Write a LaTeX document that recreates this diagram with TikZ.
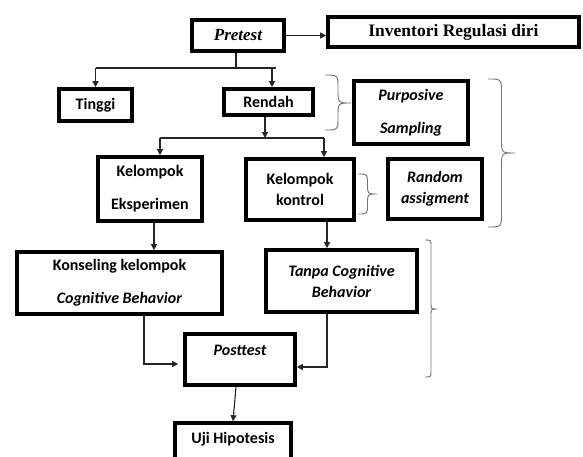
\documentclass[tikz,border=0pt]{standalone}
\usepackage{fontspec}
\setmainfont{Carlito}
\newfontfamily\tnrfont{Liberation Serif}
\usetikzlibrary{arrows.meta,calc}
\begin{document}
\begin{tikzpicture}[x=1pt,y=-1pt,
  box/.style={draw=black,line width=3.6pt,rectangle,inner sep=0pt,align=center,
    font=\fontsize{16}{21}\selectfont\bfseries},
  itbox/.style={box,font=\fontsize{16}{21}\selectfont\bfseries\itshape},
  conn/.style={draw=black!85,line width=1.1pt},
  arr/.style={conn,-{Triangle[length=6pt,width=6pt]}},
  bracec/.style={draw=black!55,line width=0.9pt}]
\useasboundingbox (0,0) rectangle (583,456);
\clip (0,0) rectangle (583,456);
\fill[white] (0,0) rectangle (583,456);

% boxes
\node[box,minimum width=92pt,minimum height=31pt,line width=3.8pt,
  font=\tnrfont\fontsize{17}{20}\selectfont\bfseries\itshape] (pre) at (238,35.5) {Pretest};
\node[box,minimum width=251pt,minimum height=30pt,
  font=\tnrfont\fontsize{17.5}{20}\selectfont\bfseries] (inv) at (453.5,32) {Inventori Regulasi diri};
\node[box,minimum width=73pt,minimum height=32pt] (tinggi) at (95.5,105) {Tinggi};
\node[box,minimum width=89pt,minimum height=26pt] (rendah) at (268.5,102) {Rendah};
\node[itbox,minimum width=114pt,minimum height=63pt] (purp) at (411,112.5) {Purposive\\[12pt]Sampling};
\node[box,minimum width=104pt,minimum height=64pt] (eks) at (150,189) {Kelompok\\[12pt]Eksperimen};
\node[box,minimum width=108pt,minimum height=61pt] (kon) at (300,189.5) {Kelompok\\kontrol};
\node[itbox,minimum width=94pt,minimum height=60pt] (rand) at (435,189) {Random\\assigment};
\node[box,minimum width=205pt,minimum height=62pt] (kons) at (119.5,283) {Konseling kelompok\\[12pt]\textit{Cognitive Behavior}};
\node[itbox,minimum width=151pt,minimum height=62pt] (tanpa) at (341.5,281) {Tanpa Cognitive\\Behavior};
\node[itbox,minimum width=110pt,minimum height=51pt] (post) at (240,359.5) {Posttest\\[-2pt]\mbox{}};
\node[box,minimum width=116pt,minimum height=45pt] (uji) at (233,445.5) {Uji Hipotesis\\[-6pt]\mbox{}};

% connectors
\draw[arr] (pre.east) -- (pre.east -| inv.west);

\coordinate (j1) at (236,68);
\coordinate (j1l) at (tinggi.north |- j1);
\coordinate (j1r) at ([xshift=7.5pt]rendah.north |- j1);
\draw[conn] (pre.south -| j1) -- (j1);
\draw[conn] (j1l) -- (j1r);
\draw[arr] (j1l) -- (tinggi.north);
\draw[arr] ([xshift=3.5pt]rendah.north |- j1) -- ([xshift=3.5pt]rendah.north);

\coordinate (j2) at (265,138);
\coordinate (j2l) at ([xshift=10pt]eks.north |- j2);
\coordinate (j2r) at ([xshift=24pt]kon.north |- j2);
\draw[arr] ([xshift=-3.5pt]rendah.south) -- (j2);
\draw[conn] (j2l) -- (j2r);
\draw[arr] (j2l) -- ([xshift=10pt]eks.north);
\draw[arr] (j2r) -- ([xshift=24pt]kon.north);

\draw[arr] ([xshift=4pt]eks.south) -- ([xshift=4pt]eks.south |- kons.north);
\draw[arr] ([xshift=27pt]kon.south) -- ([xshift=27pt]kon.south |- tanpa.north);

\draw[arr,shorten >=5pt] ([xshift=24.5pt]kons.south) |- ($(post.west)+(0,4.5)$);
\draw[arr] ([xshift=-14.5pt]tanpa.south) |- ($(post.east)+(0,7.5)$);
\draw[arr] ([xshift=-4pt]post.south) -- (uji.north);

% braces
\draw[bracec] (325,75) .. controls (338,75) .. (338,88) -- (338,90)
  .. controls (338,103) .. (351,103) .. controls (338,103) .. (338,116)
  -- (338,117) .. controls (338,130) .. (325,130);
\draw[bracec] (488,79) .. controls (501.5,79) .. (501.5,92.5) -- (501.5,139.5)
  .. controls (501.5,153) .. (515,153) .. controls (501.5,153) .. (501.5,166.5)
  -- (501.5,213.5) .. controls (501.5,227) .. (488,227);
\draw[bracec] (358,174) .. controls (367.5,174) .. (367.5,183.5) -- (367.5,184.5)
  .. controls (367.5,194) .. (377,194) .. controls (367.5,194) .. (367.5,203.5)
  -- (367.5,204.5) .. controls (367.5,214) .. (358,214);
\draw[bracec] (425,240) .. controls (431,240) .. (431,246) -- (431,303)
  .. controls (431,309) .. (437,309) .. controls (431,309) .. (431,315)
  -- (431,371) .. controls (431,377) .. (425,377);
\end{tikzpicture}
\end{document}
